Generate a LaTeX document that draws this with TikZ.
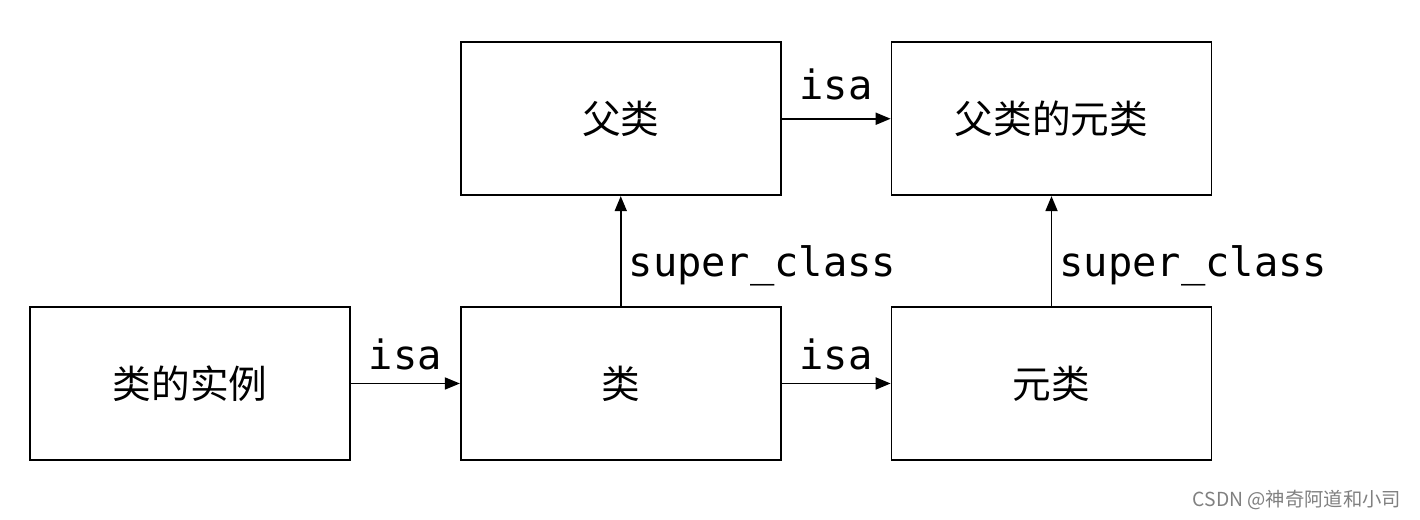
\documentclass[tikz,border=0pt]{standalone}
\usepackage{fontspec}
\newfontfamily\cjk{Noto Sans CJK SC}
\setmonofont{DejaVu Sans Mono}
\usetikzlibrary{positioning,arrows.meta}
\tikzset{
  clsbox/.style={draw,line width=1pt,minimum width=6.4cm,minimum height=3.06cm,
    font=\cjk\fontsize{22}{26}\selectfont},
  ptr/.style={line width=1pt,-{Triangle[length=0.3cm,width=0.24cm]}},
  lbl/.style={font=\ttfamily\fontsize{23}{27}\selectfont}
}
\begin{document}
\begin{tikzpicture}
  \useasboundingbox (0,0) rectangle (28.4,10.4);
  \node[clsbox] (inst) at (3.8,2.73) {类的实例};
  \node[clsbox,right=2.18cm of inst] (cls) {类};
  \node[clsbox,right=2.18cm of cls] (meta) {元类};
  \node[clsbox,above=2.2cm of cls] (super) {父类};
  \node[clsbox,above=2.2cm of meta] (supermeta) {父类的元类};
  \draw[ptr] (inst) -- node[lbl,above,inner sep=7pt] {isa} (cls);
  \draw[ptr] (cls) -- node[lbl,above,inner sep=7pt] {isa} (meta);
  \draw[ptr] (super) -- node[lbl,above,inner sep=10pt] {isa} (supermeta);
  \draw[ptr] (cls) -- node[lbl,right,pos=0.37,inner sep=4pt] {super\_class} (super);
  \draw[ptr] (meta) -- node[lbl,right,pos=0.37,inner sep=4pt] {super\_class} (supermeta);
  % watermark
  \node[anchor=east,text=gray,font=\cjk\fontsize{11}{13}\selectfont] (mark) at (28.15,0.4) {CSDN @神奇阿道和小司};
\end{tikzpicture}
\end{document}
